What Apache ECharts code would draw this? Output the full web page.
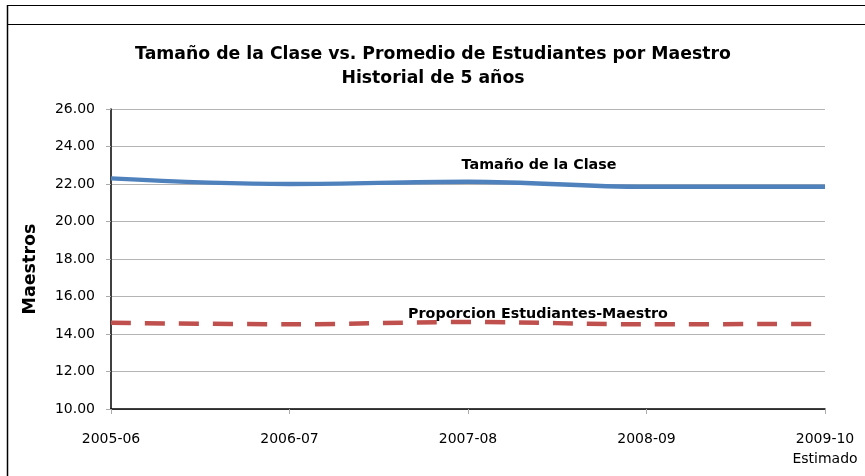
<!DOCTYPE html>
<html lang="es">
<head>
<meta charset="utf-8">
<script src="https://cdn.jsdelivr.net/npm/echarts@6/dist/echarts.min.js"></script>
<style>
  html, body { margin: 0; padding: 0; background: #fff; }
  #main { width: 865px; height: 476px; }
</style>
</head>
<body>
<div id="main"></div>
<script>
    // datos
    var anios = ['2005-06', '2006-07', '2007-08', '2008-09', '2009-10\nEstimado'];
    var tamanoClase = [22.3, 22.0, 22.12, 21.85, 21.85];
    var proporcion = [14.6, 14.52, 14.64, 14.52, 14.54];
    var yTicks = { min: 10, max: 26, interval: 2 };

    var font = 'DejaVu Sans, Verdana, sans-serif';
    var chart = echarts.init(document.getElementById('main'));

    // etiqueta de la serie, colocada en el punto 2007-08
    function etiqueta(arr, texto, offset) {
        return arr.map(function (v, i) {
            if (i !== 2) return v;
            return {
                value: v,
                label: {
                    show: true, position: 'top', offset: offset,
                    formatter: texto,
                    fontSize: 14.3, fontWeight: 'bold', color: '#000', fontFamily: font
                }
            };
        });
    }

    chart.setOption({
        animation: false,
        textStyle: { fontFamily: font },
        title: {
            text: 'Tamaño de la Clase vs. Promedio de Estudiantes por Maestro\nHistorial de 5 años',
            left: 428,
            textAlign: 'center',
            top: 38,
            textStyle: { fontSize: 17.3, fontWeight: 'bold', color: '#000', lineHeight: 24, fontFamily: font }
        },
        graphic: [
            { type: 'line', shape: { x1: 7, y1: 5.5, x2: 865, y2: 5.5 }, style: { stroke: '#000', lineWidth: 1 } },
            { type: 'line', shape: { x1: 7, y1: 24.5, x2: 865, y2: 24.5 }, style: { stroke: '#000', lineWidth: 1 } },
            { type: 'line', shape: { x1: 7.5, y1: 5, x2: 7.5, y2: 476 }, style: { stroke: '#000', lineWidth: 1.5 } },
            {
                type: 'text', x: 30, y: 269, rotation: Math.PI / 2,
                style: { text: 'Maestros', fontSize: 17.5, fontWeight: 'bold', fill: '#000', fontFamily: font, align: 'center', verticalAlign: 'middle' }
            }
        ],
        grid: { left: 111, right: 40, top: 109, bottom: 67 },
        xAxis: {
            type: 'category',
            data: anios,
            boundaryGap: false,
            axisLine: { lineStyle: { color: '#000', width: 1.5 } },
            axisTick: { alignWithLabel: true, length: 5, lineStyle: { color: '#aaa' } },
            axisLabel: { color: '#000', fontSize: 14, margin: 20, lineHeight: 20, fontFamily: font },
            splitLine: { show: false }
        },
        yAxis: {
            type: 'value',
            min: yTicks.min,
            max: yTicks.max,
            interval: yTicks.interval,
            axisLine: { show: true, lineStyle: { color: '#000', width: 1.5 } },
            axisTick: { show: true, length: 5, lineStyle: { color: '#aaa' } },
            axisLabel: {
                color: '#000', fontSize: 14, margin: 16, fontFamily: font,
                formatter: function (v) { return v.toFixed(2); }
            },
            splitLine: { lineStyle: { color: '#b4b4b4', width: 1 } }
        },
        series: [
            {
                name: 'Tamaño de la Clase',
                type: 'line',
                smooth: 0.4,
                symbol: 'circle',
                symbolSize: 0,
                data: etiqueta(tamanoClase, 'Tamaño de la Clase', [71, -4]),
                lineStyle: { color: '#4f81bd', width: 4.5 }
            },
            {
                name: 'Proporcion Estudiantes-Maestro',
                type: 'line',
                smooth: 0.4,
                symbol: 'circle',
                symbolSize: 0,
                data: etiqueta(proporcion, 'Proporcion Estudiantes-Maestro', [70, 4]),
                lineStyle: { color: '#c0504d', width: 4.5, type: [20, 14] }
            }
        ]
    });
</script>
</body>
</html>
